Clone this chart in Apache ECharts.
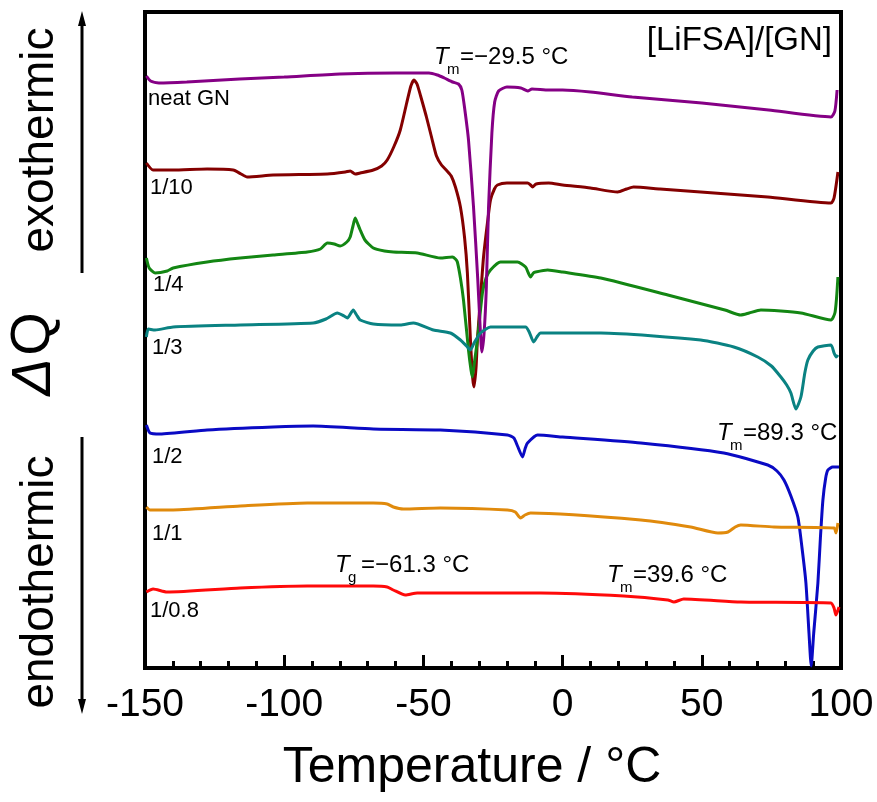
<!DOCTYPE html>
<html>
<head>
<meta charset="utf-8">
<script src="https://cdn.jsdelivr.net/npm/echarts@6/dist/echarts.min.js"></script>
<style>
  html, body { margin: 0; padding: 0; background: #fff; }
  #chart { width: 877px; height: 802px; }
</style>
</head>
<body>
<div id="chart"></div>
<script>
// DSC traces, [temperature °C, ΔQ (arbitrary units, offset per sample)]
const neatGN = [
  [-149.5, 592], [-148, 587], [-145, 585], [-135, 586], [-116, 589], [-100, 591], [-80, 594],
  [-60, 595], [-48, 595], [-45, 593], [-42.5, 590], [-39.5, 586], [-37.4, 584], [-36.2, 578],
  [-35.2, 560], [-33.8, 528], [-32, 461], [-30.5, 390], [-29.6, 340], [-29, 316], [-28.2, 335],
  [-27.4, 380], [-26.6, 461], [-25.4, 535], [-24.4, 566], [-23, 577], [-20, 581], [-15, 580],
  [-12.5, 577], [-11, 579], [-5, 578], [0, 578], [10, 576], [25, 571], [50, 565], [74, 558],
  [96.4, 551], [97.8, 557], [98.6, 578]
];
const ratio1to10 = [
  [-149.5, 505], [-147.1, 498], [-140, 498], [-127.7, 499], [-118.3, 498], [-115.5, 494],
  [-113.3, 491], [-104, 493], [-84.5, 494], [-78, 496], [-76.3, 497], [-74.5, 494], [-72.7, 495],
  [-68, 498], [-65, 502], [-63, 508], [-60.5, 522], [-58.3, 538], [-56, 565], [-54.5, 582],
  [-53.4, 588], [-52.3, 584], [-51, 572], [-49, 552], [-47, 530], [-45.3, 512], [-43.5, 503],
  [-41.5, 497], [-40, 492], [-38.5, 481], [-36.7, 461], [-35.2, 430], [-34.2, 395], [-33.1, 328],
  [-32.3, 290], [-31.8, 281], [-31.1, 300], [-30.6, 328], [-29.5, 370], [-28.4, 411], [-27, 445],
  [-25.9, 468], [-24.5, 479], [-23.4, 483], [-20, 485], [-12.6, 485], [-11.5, 483], [-10.8, 481],
  [-9.5, 484], [-5, 485], [0, 483], [10, 480], [19.8, 476], [23, 479], [25.5, 481], [35, 479],
  [49.6, 476], [73.7, 471], [96.4, 465], [97.5, 470], [98.9, 496]
];
const ratio1to4 = [
  [-149.5, 410], [-148.5, 400], [-146.4, 395], [-142, 397], [-139.9, 400], [-127.7, 406],
  [-115.8, 410], [-104, 413], [-91.7, 416], [-87, 419], [-84.5, 425], [-82, 424], [-79.9, 422],
  [-77.5, 426], [-76.3, 431], [-75.3, 442], [-74.5, 450], [-73.7, 445], [-72.7, 438], [-71, 428],
  [-68, 420], [-64, 417], [-60.8, 416], [-52.2, 415], [-43.9, 410], [-39.6, 411], [-38.5, 409],
  [-37.8, 406], [-36.7, 390], [-35.6, 368], [-33.8, 318], [-32.9, 298], [-32.4, 291], [-31.7, 305],
  [-30.6, 328], [-28.8, 375], [-27.5, 390], [-25.9, 398], [-22.3, 406], [-16.2, 406], [-13.3, 401],
  [-12.3, 395], [-11.5, 391], [-10.5, 395], [-9.7, 396], [-5.4, 398], [0, 396], [13.7, 390],
  [37.8, 373], [58.3, 358], [64, 353], [67, 355], [71.2, 358], [85.6, 355], [96.4, 348],
  [97.8, 355], [98.4, 370], [98.9, 391]
];
const ratio1to3 = [
  [-149.5, 331], [-148.8, 339], [-146.4, 338], [-139.9, 341], [-115.8, 343], [-89.6, 345],
  [-85, 349], [-80.9, 355], [-78.5, 352], [-77.3, 350], [-75.2, 358], [-74, 353], [-72.7, 348],
  [-68, 344], [-58.3, 343], [-53.6, 345], [-46.4, 338], [-40.3, 335], [-36.7, 328], [-34.5, 322],
  [-33.1, 318], [-31.8, 325], [-29.5, 335], [-25.9, 341], [-13.3, 341], [-12, 336], [-10.4, 326],
  [-9, 332], [-7.9, 335], [13.7, 335], [49.6, 328], [61.5, 321], [70.1, 311], [75, 302],
  [78.4, 291], [80.5, 283], [82, 275], [83.8, 259], [85.6, 271], [87, 295], [88.1, 308], [90, 317],
  [91.7, 321], [96.4, 323], [97.5, 315], [98.3, 311], [98.9, 313]
];
const ratio1to2 = [
  [-149.5, 243], [-148.2, 235], [-144.6, 234], [-127.7, 238], [-104, 241], [-89.6, 242], [-68, 239],
  [-43.9, 238], [-19.8, 233], [-17.5, 230], [-16.2, 222], [-14.4, 211], [-13.4, 220], [-12.6, 225],
  [-9, 233], [0, 231], [28.1, 225], [57.9, 215], [73.7, 203], [77, 197], [79.5, 188], [82, 172],
  [84.5, 151], [86, 120], [87.4, 85], [88.5, 35], [89.3, 2], [90.2, 35], [91.7, 85], [92.6, 130],
  [93.5, 168], [94.5, 190], [95.3, 198], [97, 201], [99.3, 201]
];
const ratio1to1 = [
  [-149.5, 161], [-148.2, 158], [-139.9, 158], [-115.8, 162], [-91.7, 165], [-68, 165], [-63, 164],
  [-60.8, 161], [-57.2, 159], [-43.9, 160], [-19.8, 158], [-17, 156], [-15.1, 150], [-13.5, 153],
  [-11.5, 155], [28.1, 148], [46, 141], [55.8, 135], [59.4, 136], [62, 141], [64, 143], [75.9, 141],
  [97.5, 140], [98.2, 135], [98.9, 145]
];
const ratio1to08 = [
  [-149.5, 76], [-147.1, 79], [-142.1, 76], [-115.8, 80], [-91.7, 82], [-68, 82], [-63, 81],
  [-60.8, 78], [-56.5, 73], [-52.2, 75], [-32, 75], [-7.9, 75], [22, 72], [37.8, 68], [40, 66],
  [43.5, 69], [64, 66], [96.4, 65], [97.5, 60], [98.2, 53], [99.3, 61]
];

// drawing order: later ones on top
const traces = [
  { name: '1/10', data: ratio1to10, color: '#840000' },
  { name: '1/4', data: ratio1to4, color: '#138613' },
  { name: 'neat GN', data: neatGN, color: '#850085' },
  { name: '1/3', data: ratio1to3, color: '#0a8282' },
  { name: '1/2', data: ratio1to2, color: '#0a0ac4' },
  { name: '1/1', data: ratio1to1, color: '#e08a0c' },
  { name: '1/0.8', data: ratio1to08, color: '#ff0a0a' }
];

// sample labels: [text, left, centre y]
const sampleLabels = [
  ['neat GN', 148, 99], ['1/10', 150, 188], ['1/4', 153, 285], ['1/3', 152, 348],
  ['1/2', 152, 457], ['1/1', 152, 534], ['1/0.8', 150, 611]
];
// transition labels: [symbol, subscript, rest, left, centre y, size]
const transLabels = [
  ['T', 'm', '=\u221229.5 \u00b0C', 434, 57, 24],
  ['T', 'm', '=89.3 \u00b0C', 717, 433, 24],
  ['T', 'g', '=\u221261.3 \u00b0C', 335, 565, 24],
  ['T', 'm', '=39.6 \u00b0C', 607, 575, 24]
];

const FONT = '"Liberation Sans", Arial, sans-serif';

function txt(str, x, y, size, opt) {
  opt = opt || {};
  const align = opt.align || 'left';
  return {
    type: 'text', x: x, y: y, z: 20,
    rotation: opt.rotation || 0,
    style: {
      text: str, fill: '#000',
      fontSize: size, fontFamily: FONT,
      fontStyle: opt.italic ? 'italic' : 'normal',
      align: align, textAlign: align,
      verticalAlign: 'middle', textVerticalAlign: 'middle'
    }
  };
}

const graphics = [];
sampleLabels.forEach(l => graphics.push(txt(l[0], l[1], l[2], 22)));
transLabels.forEach(l => {
  const s = l[5];
  graphics.push(txt(l[0], l[3], l[4], s, { italic: true }));
  graphics.push(txt(l[1], l[3] + 13, l[4] + 13, Math.round(s * 0.62)));
  graphics.push(txt(l[2], l[3] + 26, l[4], s));
});
graphics.push(txt('[LiFSA]/[GN]', 832, 41, 33, { align: 'right' }));
graphics.push(txt('Temperature / \u00b0C', 472, 768, 50, { align: 'center' }));

// y-axis caption (rotated) with arrows
graphics.push(txt('exothermic', 40, 140, 46, { align: 'center', rotation: Math.PI / 2 }));
graphics.push(txt('endothermic', 40, 582, 46, { align: 'center', rotation: Math.PI / 2 }));
graphics.push(txt('\u0394', 34, 377, 56, { align: 'center', rotation: Math.PI / 2, italic: true }));
graphics.push(txt('Q', 34, 334, 56, { align: 'center', rotation: Math.PI / 2 }));
const arrowStyle = { stroke: '#000', lineWidth: 3, fill: null };
graphics.push({ type: 'line', shape: { x1: 82, y1: 273, x2: 82, y2: 22 }, style: arrowStyle });
graphics.push({ type: 'polygon', shape: { points: [[82, 11], [78, 26], [86, 26]] }, style: { fill: '#000' } });
graphics.push({ type: 'line', shape: { x1: 82, y1: 437, x2: 82, y2: 702 }, style: arrowStyle });
graphics.push({ type: 'polygon', shape: { points: [[82, 714], [78, 699], [86, 699]] }, style: { fill: '#000' } });

const chart = echarts.init(document.getElementById('chart'), null, { renderer: 'canvas' });

chart.setOption({
  animation: false,
  backgroundColor: '#fff',
  grid: {
    left: 145, right: 36, top: 12, bottom: 134,
    show: true, borderColor: '#000', borderWidth: 4, backgroundColor: 'transparent'
  },
  xAxis: {
    type: 'value',
    min: -150, max: 100, interval: 50,
    axisLine: { show: true, lineStyle: { color: '#000', width: 4 } },
    axisTick: { show: true, inside: true, length: 13, lineStyle: { color: '#000', width: 3 } },
    minorTick: { show: true, splitNumber: 5, length: 7, lineStyle: { color: '#000', width: 3 } },
    splitLine: { show: false },
    axisLabel: { color: '#000', fontSize: 39, fontFamily: FONT, margin: 18 }
  },
  yAxis: {
    type: 'value',
    min: 0, max: 656,
    axisLine: { show: false },
    axisTick: { show: false },
    axisLabel: { show: false },
    splitLine: { show: false }
  },
  series: traces.map(t => ({
    name: t.name,
    type: 'line',
    data: t.data,
    symbol: 'none',
    smooth: 0.2,
    clip: true,
    lineStyle: { color: t.color, width: 3 },
    itemStyle: { color: t.color }
  })),
  graphic: graphics
});
</script>
</body>
</html>
